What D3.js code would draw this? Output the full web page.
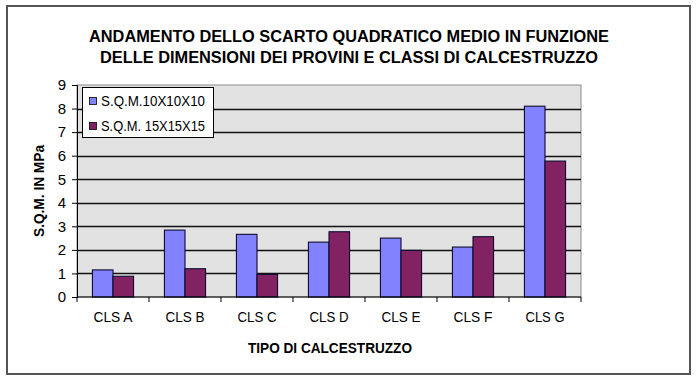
<!DOCTYPE html>
<html><head><meta charset="utf-8">
<script src="https://cdn.jsdelivr.net/npm/d3@7"></script>
<style>
html,body{margin:0;padding:0;background:#fff;}
svg{display:block;font-family:"Liberation Sans",Arial,sans-serif;}
</style></head>
<body>
<svg id="chart" width="700" height="382"></svg>
<script>
const categories = ["CLS A","CLS B","CLS C","CLS D","CLS E","CLS F","CLS G"];
const seriesNames = ["S.Q.M.10X10X10","S.Q.M. 15X15X15"];
const sqm10 = [1.15, 2.84, 2.66, 2.33, 2.50, 2.12, 8.10];
const sqm15 = [0.88, 1.20, 0.96, 2.77, 1.98, 2.56, 5.77];
const yTicks = [0,1,2,3,4,5,6,7,8,9];
const colors = ["#8282FF","#832262"];
const titleLines = ["ANDAMENTO DELLO SCARTO QUADRATICO MEDIO IN FUNZIONE","DELLE DIMENSIONI DEI PROVINI E CLASSI DI CALCESTRUZZO"];

const svg = d3.select("#chart");
// outer frame
svg.append("rect").attr("x",7).attr("y",6).attr("width",683).attr("height",368)
  .attr("fill","#fff").attr("stroke","#555").attr("stroke-width",2);

const L=77, R=581, T=85, B=297;
const x0 = d3.scaleBand().domain(categories).range([L,R]).padding(0);
const bw = x0.bandwidth()/3.5;
const x1 = d3.scaleBand().domain(seriesNames).range([bw*0.75, x0.bandwidth()-bw*0.75]).padding(0);
const y = d3.scaleLinear().domain([0,9]).range([B,T]);

// plot background
svg.append("rect").attr("x",L).attr("y",T).attr("width",R-L).attr("height",B-T)
  .attr("fill","#E2E2E2").attr("stroke","#8a8a8a").attr("stroke-width",1);

// gridlines
svg.append("g").selectAll("line").data(yTicks.filter(d=>d>0 && d<9)).join("line")
  .attr("x1",L).attr("x2",R).attr("y1",d=>Math.round(y(d))+0.5).attr("y2",d=>Math.round(y(d))+0.5)
  .attr("stroke","#111").attr("stroke-width",1.3);

// bars
const data = categories.map((c,i)=>({c, vals:[sqm10[i], sqm15[i]]}));
const g = svg.append("g");
data.forEach(d=>{
  d.vals.forEach((v,k)=>{
    g.append("rect")
      .attr("x", x0(d.c)+x1(seriesNames[k]))
      .attr("y", y(v))
      .attr("width", x1.bandwidth())
      .attr("height", y(0)-y(v))
      .attr("fill", colors[k]).attr("stroke","#0c0c30").attr("stroke-width",1.1);
  });
});

// y axis
const yAxis = d3.axisLeft(y).tickValues(yTicks).tickSize(5).tickPadding(6).tickFormat(d3.format("d"));
const yg = svg.append("g").attr("transform",`translate(${L},0)`).call(yAxis);
yg.select(".domain").attr("stroke","#000");
yg.selectAll(".tick line").attr("stroke","#000");
yg.selectAll("text").attr("font-size",15).attr("fill","#000").attr("font-family","Liberation Sans, Arial, sans-serif");

// x axis with ticks at category boundaries
const xg = svg.append("g").attr("transform",`translate(0,${B})`);
xg.append("line").attr("x1",L).attr("x2",R).attr("stroke","#000");
const bounds = categories.map(c=>x0(c)).concat([R]);
xg.selectAll("line.tk").data(bounds).join("line").attr("class","tk")
  .attr("x1",d=>d).attr("x2",d=>d).attr("y1",0).attr("y2",5).attr("stroke","#000");
xg.selectAll("text").data(categories).join("text")
  .attr("x",d=>x0(d)+x0.bandwidth()/2).attr("y",25)
  .attr("text-anchor","middle").attr("font-size",14).attr("fill","#000")
  .attr("textLength",39).attr("lengthAdjust","spacingAndGlyphs")
  .text(d=>d);

// titles
svg.append("g").selectAll("text").data(titleLines).join("text")
  .attr("x",349).attr("y",(d,i)=>42+i*21)
  .attr("text-anchor","middle").attr("font-weight","bold").attr("font-size",16)
  .attr("textLength",(d,i)=>i===0?520:498).attr("lengthAdjust","spacingAndGlyphs")
  .text(d=>d);

svg.append("text").attr("x",330).attr("y",353).attr("text-anchor","middle")
  .attr("font-weight","bold").attr("font-size",14).attr("textLength",164).attr("lengthAdjust","spacingAndGlyphs")
  .text("TIPO DI CALCESTRUZZO");

svg.append("text").attr("transform","translate(44,191) rotate(-90)").attr("text-anchor","middle")
  .attr("font-weight","bold").attr("font-size",14).attr("textLength",92).attr("lengthAdjust","spacingAndGlyphs")
  .text("S.Q.M. IN MPa");

// legend
const lg = svg.append("g");
lg.append("rect").attr("x",82.5).attr("y",87.5).attr("width",131).attr("height",50)
  .attr("fill","#fff").attr("stroke","#000").attr("stroke-width",1);
seriesNames.forEach((s,k)=>{
  lg.append("rect").attr("x",89.5).attr("y",97.5+k*25).attr("width",7).attr("height",7)
    .attr("fill",colors[k]).attr("stroke","#000").attr("stroke-width",0.8);
  lg.append("text").attr("x",101).attr("y",106+k*25).attr("font-size",14).attr("fill","#000")
    .attr("textLength",104).attr("lengthAdjust","spacingAndGlyphs").text(s);
});
</script>
</body></html>
